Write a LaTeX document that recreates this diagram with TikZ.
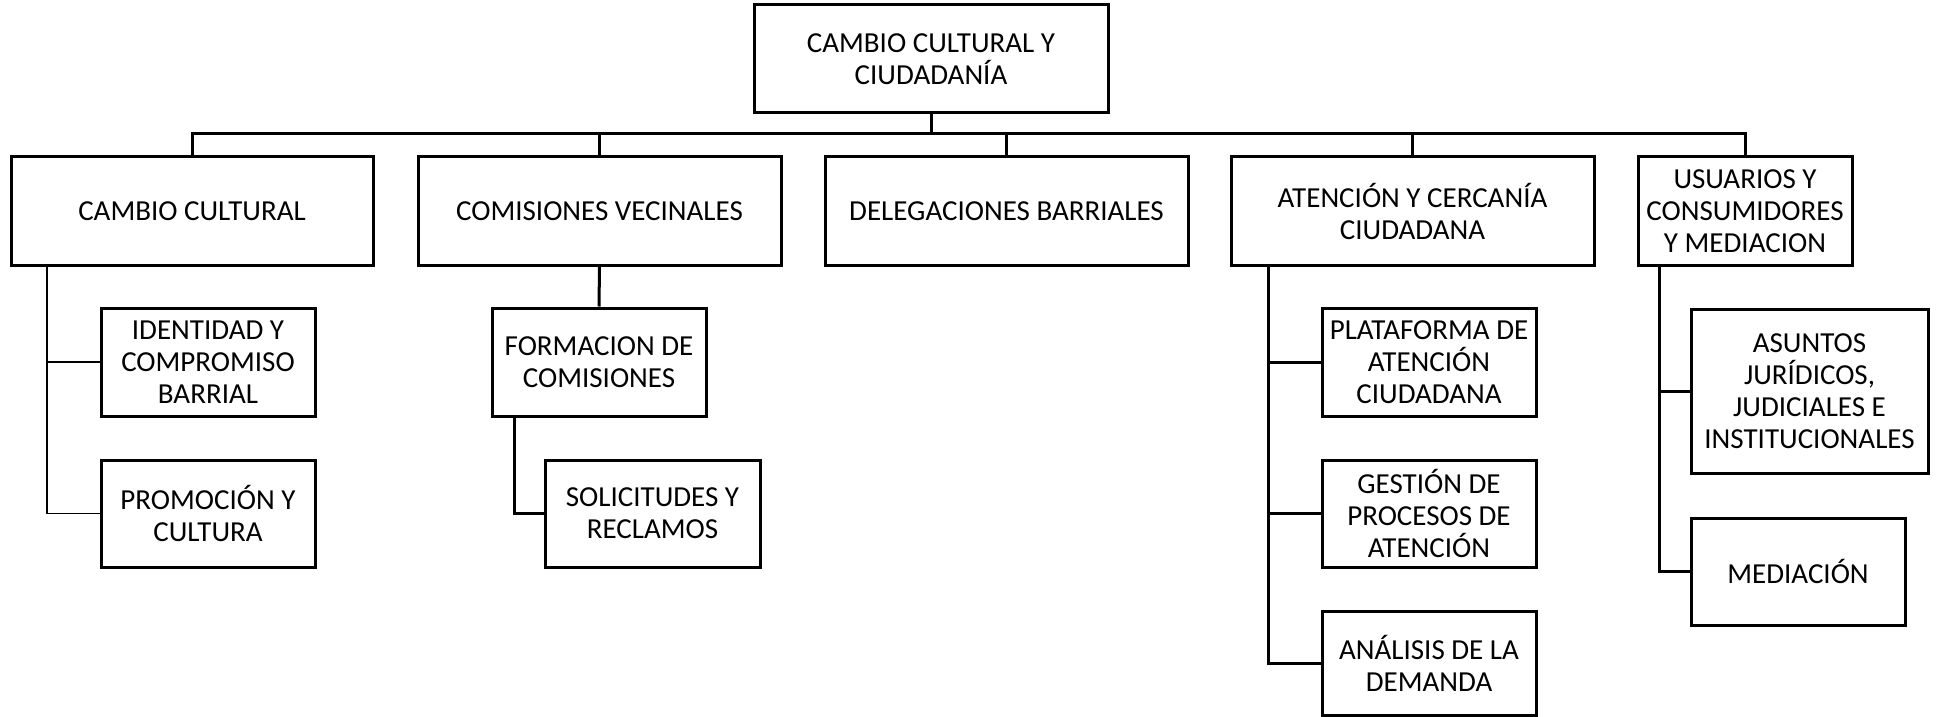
\documentclass[tikz,border=0pt]{standalone}
\usepackage{fontspec}
\setmainfont{Carlito}
\tikzset{
  orgbox/.style={draw,line width=1.5pt,inner sep=0pt,align=center},
  conn/.style={line width=1.5pt},
  thinconn/.style={line width=0.6pt}
}
\newcommand{\OrgBox}[6]{
  \node [orgbox,minimum width={(#4-#2)*0.5pt},minimum height={(#5-#3)*0.5pt}]
  (#1) at ({(#2+#4)/2},{(#3+#5)/2}) {#6};
}

\begin{document}
\begin{tikzpicture}[x=0.5pt,y=-0.5pt,font=\fontsize{14.5}{16}\selectfont]
  \useasboundingbox (0,0) rectangle (1939,717);
  \OrgBox{top}{754}{5}{1108}{113}{CAMBIO CULTURAL Y\\CIUDADANÍA}
  % first level
  \OrgBox{cc}{11}{157}{373}{265}{CAMBIO CULTURAL}
  \OrgBox{cv}{418}{157}{781}{265}{COMISIONES VECINALES}
  \OrgBox{db}{825}{157}{1188}{265}{DELEGACIONES BARRIALES}
  \OrgBox{ac}{1231}{157}{1594}{265}{ATENCIÓN Y CERCANÍA\\CIUDADANA}
  \OrgBox{uc}{1638}{157}{1852}{265}{USUARIOS Y\\CONSUMIDORES\\Y MEDIACION}
  % second level
  \OrgBox{idc}{101}{308}{315}{416}{IDENTIDAD Y\\COMPROMISO\\BARRIAL}
  \OrgBox{prc}{101}{460}{315}{567}{PROMOCIÓN Y\\CULTURA}
  \OrgBox{fc}{492}{308}{706}{416}{FORMACION DE\\COMISIONES}
  \OrgBox{sr}{545}{460}{760}{567}{SOLICITUDES Y\\RECLAMOS}
  \OrgBox{pac}{1322}{308}{1536}{416}{PLATAFORMA DE\\ATENCIÓN\\CIUDADANA}
  \OrgBox{gpa}{1322}{460}{1536}{567}{GESTIÓN DE\\PROCESOS DE\\ATENCIÓN}
  \OrgBox{adm}{1322}{611}{1536}{715}{ANÁLISIS DE LA\\DEMANDA}
  \OrgBox{aji}{1691}{309}{1928}{473}{ASUNTOS\\JURÍDICOS,\\JUDICIALES E\\INSTITUCIONALES}
  \OrgBox{med}{1691}{518}{1905}{625}{MEDIACIÓN}
  % bus
  \coordinate (bus) at (top.south |- 0,134);
  \foreach \c in {cc,cv,db,ac,uc}
    \draw[conn] (top.south) |- (bus -| \c.north) -- (\c.north);
  % spines
  \coordinate (ccs) at (47,0 |- cc.south);
  \coordinate (fcs) at (514,0 |- fc.south);
  \coordinate (acs) at (1268,0 |- ac.south);
  \coordinate (ucs) at (1659,0 |- uc.south);
  \draw[thinconn] (ccs) |- (idc.west);
  \draw[thinconn] (ccs) |- (prc.west);
  \draw[conn] (cv.south) -- (fc.north);
  \draw[conn] (fcs) |- (sr.west);
  \foreach \c in {pac,gpa,adm}
    \draw[conn] (acs) |- (\c.west);
  \foreach \c in {aji,med}
    \draw[conn] (ucs) |- (\c.west);
\end{tikzpicture}
\end{document}
